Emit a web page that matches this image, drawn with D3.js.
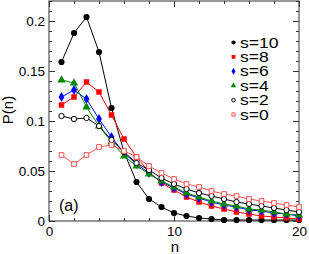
<!DOCTYPE html>
<html>
<head>
<meta charset="utf-8">
<script src="https://cdn.jsdelivr.net/npm/d3@7"></script>
<style>
body { margin: 0; background: #fff; }
svg text { font-family: "Liberation Sans", Arial, sans-serif; fill: #000; }
</style>
</head>
<body>
<svg id="chart"></svg>
<script>
var n_vals = d3.range(1, 21);

var s10 = [0.159,0.188,0.204,0.169,0.113,0.069,0.039,0.022,0.014,0.008,0.005,0.003,0.002,0.001,0.001,0.001,0.001,0.001,0.001,0.001];
var s8  = [0.116,0.124,0.139,0.129,0.106,0.082,0.064,0.049,0.038,0.031,0.024,0.019,0.015,0.012,0.009,0.007,0.005,0.004,0.003,0.002];
var s6  = [0.124,0.131,0.122,0.102,0.084,0.068,0.057,0.048,0.039,0.033,0.027,0.023,0.019,0.016,0.014,0.011,0.010,0.008,0.007,0.005];
var s4  = [0.141,0.138,0.114,0.095,0.079,0.065,0.055,0.047,0.040,0.034,0.028,0.024,0.020,0.017,0.015,0.012,0.011,0.009,0.007,0.006];
var s2  = [0.105,0.102,0.103,0.095,0.081,0.069,0.058,0.051,0.043,0.037,0.032,0.028,0.025,0.022,0.019,0.017,0.015,0.013,0.011,0.009];
var s0  = [0.066,0.057,0.066,0.074,0.076,0.070,0.064,0.055,0.048,0.042,0.037,0.034,0.030,0.027,0.025,0.022,0.020,0.018,0.016,0.014];

var series_names = ["s=10","s=8","s=6","s=4","s=2","s=0"];
var series_vals = [s10, s8, s6, s4, s2, s0];
var series_colors = ["#000000","#ff0000","#0000ff","#008800","#000000","#ff5050"];
var series_marks = ["circle","square","diamond","triangle","circle","square"];
var series_open = [false,false,false,false,true,true];

var x_ticks = [0, 10, 20];
var y_ticks = [0, 0.05, 0.1, 0.15, 0.2];
var y_tick_labels = ["0","0.05","0.1","0.15","0.2"];

var svg = d3.select("svg#chart").attr("width", 309).attr("height", 254),
  margin = {top: 1, right: 10, bottom: 33, left: 49},
  width = 309 - margin.left - margin.right,
  height = 254 - margin.top - margin.bottom,
  g = svg.append("g").attr("transform", "translate(" + margin.left + "," + margin.top + ")");

var x = d3.scaleLinear().domain([0, 20]).range([0, width]);
var y = d3.scaleLinear().domain([0, 0.22]).range([height, 0]);

// ticks on all four sides, pointing in
function inTicks(sel, axis) {
  sel.call(axis);
  sel.select(".domain").remove();
  sel.selectAll(".tick line").attr("stroke", "#333");
}
var xminor = d3.range(0, 21, 2), yminor = d3.range(0, 0.221, 0.01);
g.append("g").attr("transform", "translate(0," + height + ")")
  .call(inTicks, d3.axisBottom(x).tickValues(xminor).tickSize(-3).tickFormat(""));
g.append("g")
  .call(inTicks, d3.axisTop(x).tickValues(xminor).tickSize(-3).tickFormat(""));
g.append("g").attr("transform", "translate(0," + height + ")")
  .call(inTicks, d3.axisBottom(x).tickValues(x_ticks).tickSize(-6).tickFormat(""));
g.append("g")
  .call(inTicks, d3.axisTop(x).tickValues(x_ticks).tickSize(-6).tickFormat(""));
g.append("g")
  .call(inTicks, d3.axisLeft(y).tickValues(yminor).tickSize(-3).tickFormat(""));
g.append("g").attr("transform", "translate(" + width + ",0)")
  .call(inTicks, d3.axisRight(y).tickValues(yminor).tickSize(-3).tickFormat(""));
g.append("g")
  .call(inTicks, d3.axisLeft(y).tickValues(y_ticks).tickSize(-6).tickFormat(""));
g.append("g").attr("transform", "translate(" + width + ",0)")
  .call(inTicks, d3.axisRight(y).tickValues(y_ticks).tickSize(-6).tickFormat(""));

// tick labels
var xl = g.append("g").attr("transform", "translate(0," + height + ")")
  .call(d3.axisBottom(x).tickValues(x_ticks).tickSize(0).tickPadding(5));
xl.select(".domain").remove();
xl.selectAll(".tick text").style("font-size", "13.5px").style("font-family", "Liberation Sans, Arial, sans-serif");

var yl = g.append("g")
  .call(d3.axisLeft(y).tickValues(y_ticks).tickSize(0).tickPadding(4)
    .tickFormat(function(d, i) { return y_tick_labels[i]; }));
yl.select(".domain").remove();
yl.selectAll(".tick text").style("font-size", "13.5px").style("font-family", "Liberation Sans, Arial, sans-serif");

// frame
g.append("rect").attr("width", width).attr("height", height)
  .attr("fill", "none").attr("stroke", "#333").attr("stroke-width", 1);

function symbolFor(kind, size) {
  var t = {circle: d3.symbolCircle, square: d3.symbolSquare, diamond: d3.symbolDiamond, triangle: d3.symbolTriangle}[kind];
  return d3.symbol().type(t).size(size)();
}

var line = d3.line().x(function(d, i) { return x(n_vals[i]); }).y(function(d) { return y(d); });

series_vals.forEach(function(vals, k) {
  g.append("path").datum(vals).attr("d", line)
    .attr("fill", "none").attr("stroke", series_colors[k]).attr("stroke-width", 1);
});

series_vals.forEach(function(vals, k) {
  var col = series_colors[k];
  g.selectAll(".m" + k).data(vals).enter().append("path")
    .attr("transform", function(d, i) { return "translate(" + x(n_vals[i]) + "," + y(d) + ")"; })
    .attr("d", symbolFor(series_marks[k], series_open[k] ? 22 : 30))
    .attr("fill", series_open[k] ? "#fff" : col)
    .attr("stroke", col).attr("stroke-width", series_open[k] ? 1 : 0);
});

// legend
var leg = svg.append("g");
series_names.forEach(function(name, k) {
  var yy = 42.5 + k * 14.4;
  leg.append("path").attr("transform", "translate(233.5," + yy + ")")
    .attr("d", symbolFor(series_marks[k], series_open[k] ? 10 : 14))
    .attr("fill", series_open[k] ? "#fff" : series_colors[k])
    .attr("stroke", series_colors[k]).attr("stroke-width", series_open[k] ? 1 : 0);
  leg.append("text").attr("transform", "translate(240," + (yy + 5) + ") scale(1.25,1)")
    .style("font-size", "14px").text(name);
});

// axis titles and panel label
svg.append("text").attr("x", 175).attr("y", 252).attr("text-anchor", "middle")
  .style("font-size", "15px").text("n");
svg.append("text").attr("transform", "translate(13,110) rotate(-90)").attr("text-anchor", "middle")
  .style("font-size", "15px").text("P(n)");
svg.append("text").attr("x", 59).attr("y", 211).style("font-size", "16px").text("(a)");
</script>
</body>
</html>
